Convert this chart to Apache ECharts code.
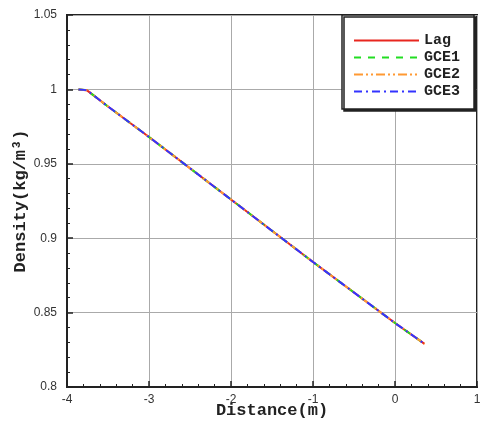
<!DOCTYPE html>
<html>
<head>
<meta charset="utf-8">
<script src="https://cdn.jsdelivr.net/npm/echarts@6/dist/echarts.min.js"></script>
<style>
  html, body { margin: 0; padding: 0; background: #fff; }
  #chart { width: 481px; height: 425px; }
</style>
</head>
<body>
<div id="chart"></div>
<script>
// Density profile along the domain for the Lagrangian and GCE schemes
const distance = [-3.86, -3.76, -3.7, -3.5, -3, -2, -1, 0, 0.36];
const lagDensity  = [1.0, 0.9995, 0.997, 0.9885, 0.968, 0.926, 0.884, 0.843, 0.829];
const gce1Density = [1.0, 0.9995, 0.997, 0.9885, 0.968, 0.926, 0.884, 0.843, 0.829];
const gce2Density = [1.0, 0.9995, 0.997, 0.9885, 0.968, 0.926, 0.884, 0.843, 0.829];
const gce3Density = [1.0, 0.9995, 0.997, 0.9885, 0.968, 0.926, 0.884, 0.843, 0.829];

const seriesNames = ['Lag', 'GCE1', 'GCE2', 'GCE3'];
const seriesValues = [lagDensity, gce1Density, gce2Density, gce3Density];
const seriesColors = ['#e8261f', '#22dd22', '#ff9933', '#3333ff'];
const seriesDash = ['solid', [7, 7], [9, 3, 2, 3, 2, 3], [8, 4, 2, 4]];

const monoBold = { fontFamily: 'Liberation Mono', fontWeight: 'bold', color: '#222' };

const chart = echarts.init(document.getElementById('chart'), null, { renderer: 'canvas' });

chart.setOption({
  animation: false,
  backgroundColor: '#fff',
  grid: {
    left: 67, right: 4, top: 15, bottom: 38,
    outerBoundsMode: 'none', containLabel: false,
    show: true, borderColor: '#222', borderWidth: 2, backgroundColor: 'transparent'
  },
  legend: {
    orient: 'vertical',
    left: 342, top: 15,
    padding: [18, 14, 10, 11],
    itemWidth: 65, itemHeight: 10, itemGap: 2,
    backgroundColor: '#fff',
    borderColor: '#222', borderWidth: 1.5,
    shadowColor: '#222', shadowOffsetX: 2, shadowOffsetY: 2, shadowBlur: 0,
    itemStyle: { opacity: 0 },
    textStyle: Object.assign({ fontSize: 15, lineHeight: 15 }, monoBold),
    data: seriesNames
  },
  xAxis: {
    type: 'value', min: -4, max: 1, interval: 1,
    name: 'Distance(m)', nameLocation: 'middle', nameGap: 15, nameMoveOverlap: false,
    nameTextStyle: Object.assign({ fontSize: 17 }, monoBold),
    axisLine: { show: true, onZero: false, lineStyle: { color: '#222', width: 2 } },
    axisTick: { show: true, inside: true, length: 6, lineStyle: { color: '#222', width: 1.5 } },
    minorTick: { show: true, splitNumber: 5, length: 3, lineStyle: { color: '#222' } },
    axisLabel: { fontFamily: 'Liberation Sans', fontSize: 12, color: '#333', margin: 7 },
    splitLine: { show: true, lineStyle: { color: '#aaa', width: 1 } }
  },
  yAxis: {
    type: 'value', min: 0.8, max: 1.05, interval: 0.05,
    name: 'Density(kg/m³)', nameLocation: 'middle', nameGap: 38, nameRotate: 90, nameMoveOverlap: false,
    nameTextStyle: Object.assign({ fontSize: 17 }, monoBold),
    axisLine: { show: true, onZero: false, lineStyle: { color: '#222', width: 2 } },
    axisTick: { show: true, inside: true, length: 6, lineStyle: { color: '#222', width: 1.5 } },
    minorTick: { show: true, splitNumber: 5, length: 3, lineStyle: { color: '#222' } },
    axisLabel: { fontFamily: 'Liberation Sans', fontSize: 12, color: '#333', margin: 10 },
    splitLine: { show: true, lineStyle: { color: '#aaa', width: 1 } }
  },
  series: seriesNames.map((name, i) => ({
    name: name,
    type: 'line',
    showSymbol: false,
    symbol: 'none',
    color: seriesColors[i],
    lineStyle: { color: seriesColors[i], width: 2, type: seriesDash[i] },
    data: distance.map((x, j) => [x, seriesValues[i][j]]),
    z: 2 + i
  }))
});
</script>
</body>
</html>
